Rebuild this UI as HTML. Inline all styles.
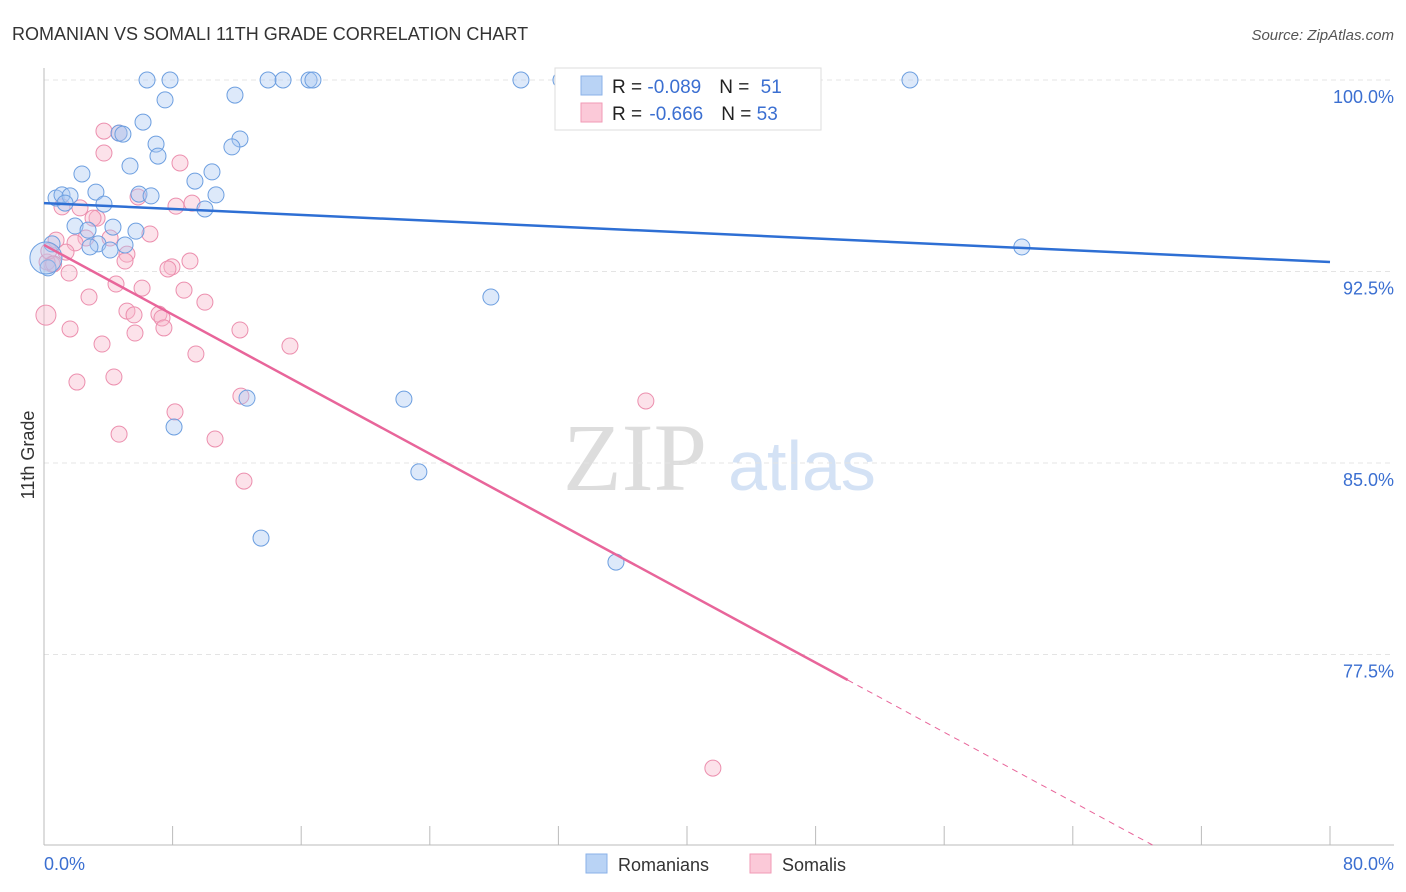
<!DOCTYPE html>
<html><head><meta charset="utf-8"><style>
body{margin:0;background:#fff;font-family:"Liberation Sans",sans-serif;}
svg{display:block}
</style></head><body>
<svg id="chart" width="1406" height="892" xmlns="http://www.w3.org/2000/svg">
<text x="12" y="40" font-size="18" fill="#333">ROMANIAN VS SOMALI 11TH GRADE CORRELATION CHART</text>
<text x="1394" y="40" font-size="15" fill="#555" font-style="italic" text-anchor="end">Source: ZipAtlas.com</text>
<g>
<text x="635" y="490" font-size="96" fill="#ddd" font-family="Liberation Serif,serif" text-anchor="middle">ZIP</text>
<text x="802" y="490" font-size="70" fill="#d4e2f5" text-anchor="middle">atlas</text>
</g>
<g id="grid"></g><g id="axes"></g><g id="marks"></g>
<text transform="translate(34,455) rotate(-90)" font-size="18" fill="#333" text-anchor="middle">11th Grade</text>
<text x="44" y="870" font-size="18" fill="#3b6fd1">0.0%</text>
<text x="1394" y="870" font-size="18" fill="#3b6fd1" text-anchor="end">80.0%</text>
<g>
<rect x="555" y="68" width="266" height="62" fill="#fff" stroke="#ddd"/>
<rect x="581" y="76" width="21" height="19" fill="#b9d3f5" stroke="#8ab2e8"/>
<rect x="581" y="103" width="21" height="19" fill="#fbc9d8" stroke="#f19ab6"/>
<text x="612" y="93" font-size="19" fill="#222">R = <tspan fill="#3b6fd1">-0.089</tspan><tspan dx="18">N = </tspan><tspan fill="#3b6fd1" dx="6">51</tspan></text>
<text x="612" y="120" font-size="19" fill="#222">R = <tspan fill="#3b6fd1" dx="2">-0.666</tspan><tspan dx="18">N = </tspan><tspan fill="#3b6fd1">53</tspan></text>
</g>
<g>
<rect x="586" y="854" width="21" height="19" fill="#b9d3f5" stroke="#8ab2e8"/>
<text x="618" y="871" font-size="18" fill="#333">Romanians</text>
<rect x="750" y="854" width="21" height="19" fill="#fbc9d8" stroke="#f19ab6"/>
<text x="782" y="871" font-size="18" fill="#333">Somalis</text>
</g>
</svg>
<script>
const yTicks=[100,92.5,85,77.5];
const yTickLabels=["100.0%","92.5%","85.0%","77.5%"];
const romX=[6.41,7.84,13.94,14.87,16.49,16.73,29.67,32.16,53.87,7.53,11.88,6.16,4.67,4.91,6.97,12.19,11.69,7.09,5.35,10.45,2.36,9.39,3.23,0.75,1.12,1.62,5.91,6.66,10.70,3.73,10.01,1.31,1.93,4.29,2.74,5.72,3.36,4.11,5.04,2.86,0.50,60.83,0.25,27.80,12.63,22.39,8.09,23.32,13.50,35.58,0.12];
const romY=[100,100,100,100,100,100,100,100,100,99.22,99.41,98.35,97.92,97.88,97.49,97.69,97.38,97.02,96.63,96.40,96.32,96.04,95.61,95.38,95.50,95.46,95.53,95.46,95.50,95.14,94.95,95.18,94.28,94.24,94.12,94.08,93.58,93.34,93.54,93.46,93.58,93.46,92.64,91.50,87.54,87.50,86.41,84.65,82.06,81.12,93.03];
const somX=[3.73,4.67,3.73,8.46,5.85,9.21,8.21,2.24,1.12,3.30,3.05,6.59,4.11,2.61,1.93,0.75,1.37,5.16,5.04,0.50,0.19,9.08,7.96,7.71,1.56,4.48,6.10,8.71,2.80,10.01,5.16,5.60,7.15,7.34,0.12,1.62,7.46,12.19,5.66,15.30,3.61,9.45,4.35,2.05,12.25,37.44,8.15,4.67,10.64,12.44,41.61,0.3,0.6];
const somY=[98.00,97.92,97.14,96.75,95.42,95.18,95.06,94.99,95.03,94.59,94.59,93.97,93.81,93.81,93.62,93.73,93.26,93.18,92.91,92.79,92.87,92.91,92.68,92.60,92.44,92.01,91.85,91.77,91.50,91.30,90.95,90.80,90.83,90.68,90.79,90.25,90.29,90.21,90.09,89.58,89.66,89.27,88.37,88.17,87.62,87.43,87.00,86.13,85.94,84.29,73.05,93.3,92.8];
const romTrend=[95.18,92.87];
const somTrend=[93.54,76.50];
const somTrendSolidEnd=50;
const NS="http://www.w3.org/2000/svg";
const X=v=>44+v/80*1286, Y=v=>80+(100-v)/7.5*191.5;
function mk(t,a,p){const e=document.createElementNS(NS,t);for(const k in a)e.setAttribute(k,a[k]);p.appendChild(e);return e;}
const grid=document.getElementById('grid'),axes=document.getElementById('axes'),marks=document.getElementById('marks');
yTicks.forEach((t,i)=>{
 const l=mk('line',{x1:44,x2:1394,y1:Y(t),y2:Y(t),stroke:'#e4e4e4','stroke-dasharray':'5,4'},grid);
 
 
 const tx=mk('text',{x:1394,y:Y(t)+23,'font-size':18,fill:'#3b6fd1','text-anchor':'end'},grid);
 tx.textContent=yTickLabels[i];
 
 
});
const ya=mk('line',{x1:44,x2:44,y1:68,y2:845,stroke:'#bbb'},axes);


const xa=mk('line',{x1:44,x2:1394,y1:845,y2:845,stroke:'#bbb'},axes);


for(let i=1;i<=10;i++){const t=mk('line',{x1:X(i*8),x2:X(i*8),y1:826,y2:845,stroke:'#bbb'},axes);
 
 }
function dots(xs,ys,fill,stroke,name){xs.forEach((x,i)=>{
 let r=8;
 if(i===xs.length-1&&name==='romanian-point') r=16;
 if(name==='somali-point'&&x===0.12) r=10;
 const c=mk('circle',{cx:X(x),cy:Y(ys[i]),r:r,fill:fill,'fill-opacity':0.4,stroke:stroke,'stroke-width':1},marks);
 
 });}
dots(somX,somY,'#f7b6cb','#ec8fae','somali-point');
dots(romX,romY,'#a9c8f2','#6d9fe0','romanian-point');
const rl=mk('line',{x1:X(0),y1:Y(romTrend[0]),x2:X(80),y2:Y(romTrend[1]),stroke:'#2e6fd4','stroke-width':2.5},marks);


const sl=v=>somTrend[0]+(somTrend[1]-somTrend[0])*v/somTrendSolidEnd;
const s1=mk('line',{x1:X(0),y1:Y(somTrend[0]),x2:X(somTrendSolidEnd),y2:Y(sl(somTrendSolidEnd)),stroke:'#e8659a','stroke-width':2.5},marks);


const yEnd=100-(845-80)/191.5*7.5; const xEnd=(yEnd-somTrend[0])/(somTrend[1]-somTrend[0])*somTrendSolidEnd;
const s2=mk('line',{x1:X(somTrendSolidEnd),y1:Y(sl(somTrendSolidEnd)),x2:X(xEnd),y2:Y(yEnd),stroke:'#e8659a','stroke-width':1,'stroke-dasharray':'6,5'},marks);


</script>
</body></html>
